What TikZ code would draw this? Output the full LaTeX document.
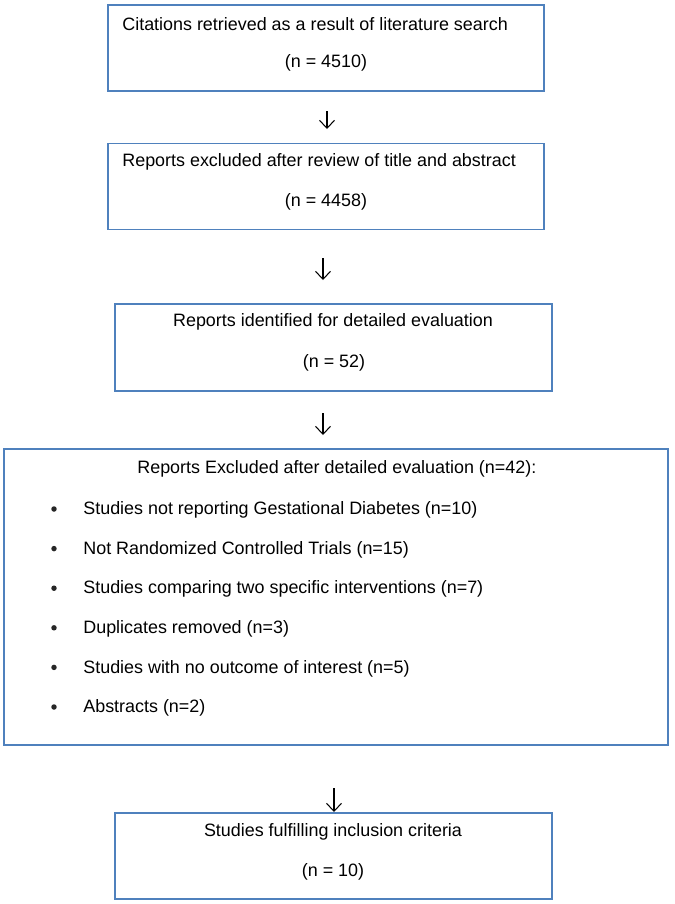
\documentclass[tikz,border=0pt]{standalone}
\usepackage{fontspec}
\setmainfont{Liberation Sans}
\usetikzlibrary{arrows.meta}
\definecolor{boxblue}{RGB}{79,129,189}
\tikzset{
  box/.style={draw=boxblue, line width=1.1pt, inner sep=0pt},
  txt/.style={inner sep=0pt, font=\fontsize{10.2}{12}\selectfont},
  dot/.style={circle, fill=black!85, inner sep=0pt, minimum size=0.11cm},
  arr/.style={line width=0.6pt, -{Straight Barb[length=4.5pt,width=8.5pt]}}
}
\begin{document}
\begin{tikzpicture}[x=0.02cm, y=-0.02cm]
\useasboundingbox (0,0) rectangle (675,904);

\node [box, minimum width=8.74cm, minimum height=1.72cm] (search) at (326,48) {};
\node [box, minimum width=8.74cm, minimum height=1.72cm] (screen) at (326,186.5) {};
\node [box, minimum width=8.74cm, minimum height=1.74cm] (detail) at (333.5,347.5) {};
\node [box, minimum width=13.28cm, minimum height=5.92cm] (excl) at (336,597) {};
\node [box, minimum width=8.74cm, minimum height=1.72cm] (incl) at (333.5,856) {};

\node [txt, anchor=west] (search1) at (122,24) {Citations retrieved as a result of literature search};
\node [txt] (search2) at (326,63) {(n = 4510)};
\node [txt, anchor=west] (screen1) at (122,162) {Reports excluded after review of title and abstract};
\node [txt] (screen2) at (326,202) {(n = 4458)};
\node [txt] (detail1) at (333,322) {Reports identified for detailed evaluation};
\node [txt] (detail2) at (334,363) {(n = 52)};
\node [txt, anchor=west] (excl0) at (137,469) {Reports Excluded after detailed evaluation (n=42):};
\node [txt] (incl1) at (333,832) {Studies fulfilling inclusion criteria};
\node [txt] (incl2) at (333,872) {(n = 10)};

\foreach \k/\item in {0/{Studies not reporting Gestational Diabetes (n=10)},
                      1/{Not Randomized Controlled Trials (n=15)},
                      2/{Studies comparing two specific interventions (n=7)},
                      3/{Duplicates removed (n=3)},
                      4/{Studies with no outcome of interest (n=5)},
                      5/{Abstracts (n=2)}} {
  \node [dot] (dot\k) at (54,509+39.6*\k) {};
  \node [txt, anchor=west] (item\k) at (83,510+39.6*\k) {\item};
}

\coordinate (a1s) at (327,111);
\coordinate (a1e) at (327,129);
\coordinate (a2s) at (323,258);
\coordinate (a2e) at (323,280);
\coordinate (a3s) at (323,413);
\coordinate (a3e) at (323,435);
\coordinate (a4s) at (334,788);
\coordinate (a4e) at (334,812);
\draw [arr] (a1s) -- (a1e);
\draw [arr] (a2s) -- (a2e);
\draw [arr] (a3s) -- (a3e);
\draw [arr] (a4s) -- (a4e);
\end{tikzpicture}
\end{document}
